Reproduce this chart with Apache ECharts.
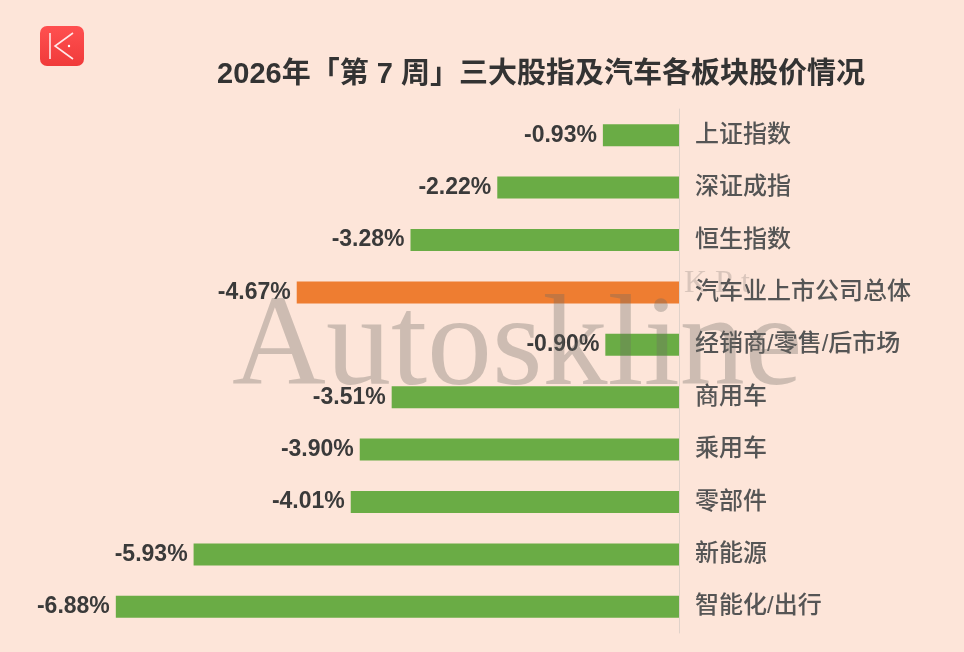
<!DOCTYPE html>
<html><head><meta charset="utf-8">
<script src="https://cdn.jsdelivr.net/npm/echarts@6/dist/echarts.min.js"></script>
<style>html,body{margin:0;padding:0;background:#fde5d9}#c{width:964px;height:652px}</style>
</head><body><div id="c"></div>
<script>
const categories = ['上证指数','深证成指','恒生指数','汽车业上市公司总体','经销商/零售/后市场','商用车','乘用车','零部件','新能源','智能化/出行'];
const values = [-0.93,-2.22,-3.28,-4.67,-0.90,-3.51,-3.90,-4.01,-5.93,-6.88];
const highlight = '汽车业上市公司总体';
const titleText = '2026年「第 7 周」三大股指及汽车各板块股价情况';

const chart = echarts.init(document.getElementById('c'));
const font = '"Liberation Sans", "Noto Sans CJK SC", sans-serif';
chart.setOption({
  backgroundColor: '#fde5d9',
  animation: false,
  title: {text: titleText, left: 536, top: 55, textAlign: 'center',
    textStyle: {fontSize: 29, fontWeight: 'bold', color: '#333', fontFamily: font}},
  grid: {left: 106, right: 285, top: 109, height: 524},
  xAxis: {type: 'value', min: -7, max: 0, show: false},
  yAxis: {type: 'category', data: categories, inverse: true, position: 'right',
    axisLine: {show: true, lineStyle: {color: '#e0d2ca', width: 1}},
    axisTick: {show: false},
    axisLabel: {margin: 16, fontSize: 24, color: '#555', fontFamily: font, fontWeight: 500}},
  series: [{type: 'bar', barWidth: 22,
    data: values.map((v, i) => ({value: v, itemStyle: {color: categories[i] === highlight ? '#ee7d31' : '#6aac45'}})),
    label: {show: true, position: 'left', distance: 6, formatter: p => p.value.toFixed(2) + '%',
      fontSize: 23, fontWeight: 'bold', color: '#3a3a3a', fontFamily: font}}],
  graphic: [
    {type: 'rect', shape: {x: 40, y: 26, width: 44, height: 40, r: 7}, style: {fill: new echarts.graphic.LinearGradient(0,0,0,1,[{offset:0,color:'#ff5050'},{offset:1,color:'#f03a3a'}])}},
    {type: 'polyline', shape: {points: [[50,33],[50,59]]}, style: {stroke: '#ffe8e8', lineWidth: 1.6}},
    {type: 'polyline', shape: {points: [[73,33],[55,46],[73,59]]}, style: {stroke: '#ffe8e8', lineWidth: 1.6, fill: null}},
    {type: 'circle', shape: {cx: 69, cy: 46, r: 1.2}, style: {fill: '#fff'}},
    {type: 'text', z: 100, left: 232, top: 285, style: {text: 'Autoskline', font: '130px "Liberation Serif", serif', fill: 'rgba(110,105,100,0.33)'}},
    {type: 'text', z: 100, left: 684, top: 268, style: {text: 'K P t', font: '32px "Liberation Serif", serif', fill: 'rgba(110,105,100,0.25)'}}
  ]
});
</script></body></html>
